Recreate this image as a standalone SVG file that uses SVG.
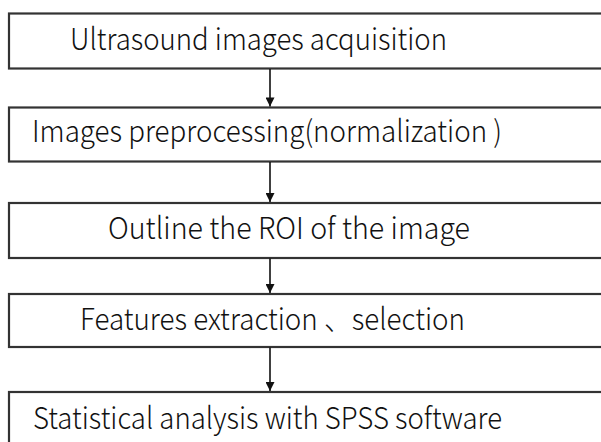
<svg xmlns="http://www.w3.org/2000/svg" width="601" height="442" viewBox="0 0 601 442">
<defs>
<marker id="ah" viewBox="0 0 10 10" refX="10" refY="5" markerWidth="10" markerHeight="9" markerUnits="userSpaceOnUse" orient="auto">
<path d="M0,0 L10,5 L0,10 Z" fill="#111"/>
</marker>
</defs>
<style>
.box{fill:#fff;stroke:#333;stroke-width:2.2}
.t{font-family:"Noto Sans CJK SC","Noto Sans",sans-serif;font-size:30px;font-weight:300;fill:#111}
.c{stroke:#111;stroke-width:1.6;fill:none}
</style>
<rect width="601" height="442" fill="#fff"/>
<g id="n1"><rect class="box" x="9" y="13.5" width="600" height="55"/><text class="t" x="70" y="50" textLength="377" lengthAdjust="spacingAndGlyphs">Ultrasound images acquisition</text></g>
<g id="n2"><rect class="box" x="9" y="107.5" width="600" height="54"/><text class="t" x="32" y="142" textLength="470" lengthAdjust="spacingAndGlyphs">Images preprocessing(normalization )</text></g>
<g id="n3"><rect class="box" x="9" y="203" width="600" height="55"/><text class="t" x="108" y="239" textLength="362" lengthAdjust="spacingAndGlyphs">Outline the ROI of the image</text></g>
<g id="n4"><rect class="box" x="9" y="294" width="600" height="53"/><text class="t" x="80" y="330" textLength="385" lengthAdjust="spacingAndGlyphs">Features extraction 、selection</text></g>
<g id="n5"><rect class="box" x="9" y="392" width="600" height="60"/><text class="t" x="33" y="428.5" textLength="469" lengthAdjust="spacingAndGlyphs">Statistical analysis with SPSS software</text></g>
<g id="connectors">
<line class="c" x1="270" y1="69" x2="270" y2="106.5" marker-end="url(#ah)"/>
<line class="c" x1="270" y1="162" x2="270" y2="202" marker-end="url(#ah)"/>
<line class="c" x1="270" y1="258.5" x2="270" y2="293" marker-end="url(#ah)"/>
<line class="c" x1="270" y1="347.5" x2="270" y2="391" marker-end="url(#ah)"/>
</g>
</svg>
